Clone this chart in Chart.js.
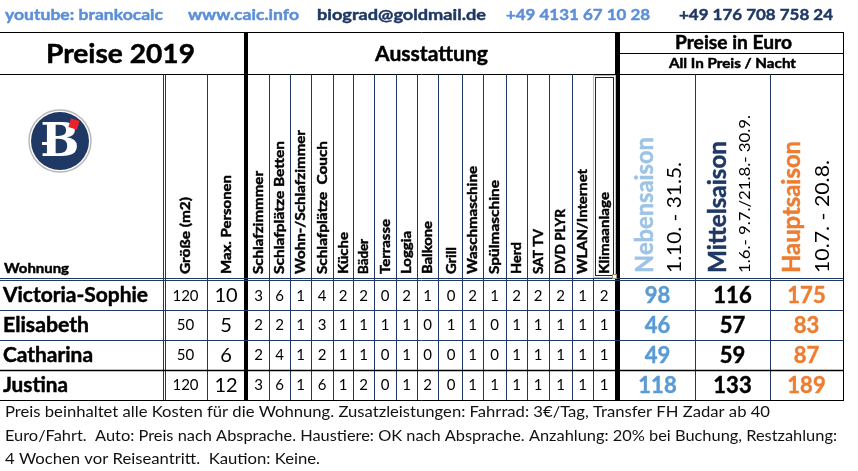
<!DOCTYPE html>
<html><head><meta charset="utf-8">
<script src="https://cdn.jsdelivr.net/npm/chart.js@4.4.1/dist/chart.umd.min.js"></script>
<style>html,body{margin:0;padding:0;background:#fff;overflow:hidden}canvas{display:block}</style>
</head><body>
<canvas id="c" width="858" height="471"></canvas>
<script>
// ---------- DATA ----------
const apartments = ["Victoria-Sophie", "Elisabeth", "Catharina", "Justina"];
const sizeM2 = [120, 50, 50, 120];
const maxPersons = [10, 5, 6, 12];
const equipmentLabels = ["Schlafzimmmer", "Schlafplätze Betten", "Wohn-/Schlafzimmer", "Schlafplätze  Couch", "Küche", "Bäder", "Terrasse", "Loggia", "Balkone",
  "Grill", "Waschmaschine", "Spülmaschine", "Herd", "SAT TV", "DVD PLYR", "WLAN/Internet", "Klimaanlage"];
const eqVictoriaSophie = [3, 6, 1, 4, 2, 2, 0, 2, 1, 0, 2, 1, 2, 2, 2, 1, 2];
const eqElisabeth      = [2, 2, 1, 3, 1, 1, 1, 1, 0, 1, 1, 0, 1, 1, 1, 1, 1];
const eqCatharina      = [2, 4, 1, 2, 1, 1, 0, 1, 0, 0, 1, 0, 1, 1, 1, 1, 1];
const eqJustina        = [3, 6, 1, 6, 1, 2, 0, 1, 2, 0, 1, 1, 1, 1, 1, 1, 1];
const priceNebensaison = [98, 46, 49, 118];
const priceMittelsaison = [116, 57, 59, 133];
const priceHauptsaison = [175, 83, 87, 189];
const seasonLabels = ["Nebensaison", "Mittelsaison", "Hauptsaison"];
const seasonDates = ["1.10. - 31.5.", "1.6.- 9.7./21.8.- 30.9.", "10.7. - 20.8."];
const contactItems = ["youtube: brankocaic", "www.caic.info", "biograd@goldmail.de", "+49 4131 67 10 28", "+49 176 708 758 24"];
const footerLines = [
  "Preis beinhaltet alle Kosten für die Wohnung. Zusatzleistungen: Fahrrad: 3€/Tag, Transfer FH Zadar ab 40",
  "Euro/Fahrt.  Auto: Preis nach Absprache. Haustiere: OK nach Absprache. Anzahlung: 20% bei Buchung, Restzahlung:",
  "4 Wochen vor Reiseantritt.  Kaution: Keine."
];

// ---------- LAYOUT (pixel units on the hidden linear scales) ----------
const F = "Lato, 'Open Sans', sans-serif";
const NAVY = "#1f3864";
const rowEdges = [281, 310, 340, 370, 400];
const rowCenters = rowEdges.slice(0, -1).map((e, i) => (e + rowEdges[i + 1]) / 2 + 0.5);
const eqEdgesL = [248, 269, 290, 311, 333, 353, 374, 396, 417, 438];
const eqEdgesR = [440, 462, 483, 506, 527, 549, 572, 593, 615];
const eqCenters = [...eqEdgesL.slice(0, -1).map((e, i) => (e + eqEdgesL[i + 1]) / 2),
                   ...eqEdgesR.slice(0, -1).map((e, i) => (e + eqEdgesR[i + 1]) / 2)];
const sizeX = 185.5, persX = 226;
const priceCenters = [657.5, 732.5, 806.5];
const eqLen = [103, 133, 144, 133, 42, 35, 55, 43, 53, 27, 108, 94, 32, 45, 65, 105, 82];
const contactX = [5, 188, 317, 506, 679];
const contactW = [158, 111, 169, 144, 154];
const contactC = ["#5b8fd8", "#5b8fd8", NAVY, "#5b8fd8", NAVY];
const footerW = [765, 832, 315];
const nameW = [145, 86, 90, 65];
const seasonColors = ["#9dc3e6", NAVY, "#ed7d31"];
const priceColors = ["#5b9bd5", "#000000", "#ed7d31"];

function txt(ctx, s, x, y, o) {
  ctx.save();
  ctx.translate(x, y);
  if (o.rot) ctx.rotate(o.rot);
  ctx.font = o.font;
  ctx.fillStyle = o.color || "#000";
  ctx.textAlign = o.align || "left";
  ctx.textBaseline = o.base || "middle";
  if (o.w) { const m = ctx.measureText(s).width; ctx.scale(o.w / m, 1); }
  ctx.fillText(s, 0, 0);
  if (o.font.indexOf("bold") === 0) {
    ctx.strokeStyle = o.color || "#000"; ctx.lineWidth = 0.45; ctx.strokeText(s, 0, 0);
  }
  ctx.restore();
}

// ---------- DATASETS ----------
const datasets = [];
const pts = (vals, xc) => vals.map((v, i) => ({ x: xc, y: rowCenters[i], v }));
datasets.push({ label: "Größe (m2)", data: pts(sizeM2, sizeX), lblFont: "15px " + F, lblColor: "#000" });
datasets.push({ label: "Max. Personen", data: pts(maxPersons, persX), lblFont: "20px " + F, lblColor: "#000" });
const eqRows = [eqVictoriaSophie, eqElisabeth, eqCatharina, eqJustina];
equipmentLabels.forEach((lab, j) => {
  datasets.push({ label: lab, data: pts(eqRows.map(r => r[j]), eqCenters[j]), lblFont: "15px " + F, lblColor: "#000" });
});
[priceNebensaison, priceMittelsaison, priceHauptsaison].forEach((vals, k) => {
  datasets.push({ label: seasonLabels[k], data: pts(vals, priceCenters[k]), lblFont: "bold 22px " + F, lblColor: priceColors[k] });
});
datasets.forEach(d => { d.pointRadius = 0; d.showLine = false; });

const tablePlugin = {
  id: "table",
  beforeDraw(chart) {
    const c = chart.ctx; c.save(); c.fillStyle = "#fff"; c.fillRect(0, 0, chart.width, chart.height); c.restore();
  },
  afterDatasetsDraw(chart) {
    const ctx = chart.ctx;
    const xs = chart.scales.x, ys = chart.scales.y;
    const X = v => xs.getPixelForValue(v), Y = v => ys.getPixelForValue(v);
    const hline = (x1, x2, y, col, w) => { ctx.beginPath(); ctx.strokeStyle = col; ctx.lineWidth = w || 1; ctx.moveTo(X(x1), Y(y)); ctx.lineTo(X(x2), Y(y)); ctx.stroke(); };
    const vline = (x, y1, y2, col, w) => { ctx.beginPath(); ctx.strokeStyle = col; ctx.lineWidth = w || 1; ctx.moveTo(X(x), Y(y1)); ctx.lineTo(X(x), Y(y2)); ctx.stroke(); };
    ctx.save();
    // contact line
    contactItems.forEach((s, i) => txt(ctx, s, X(contactX[i]), Y(15), { font: "bold 16px " + F, color: contactC[i], w: contactW[i] }));
    // grid
    hline(0, 843, 32.5, "#000");
    hline(0, 843, 74.5, "#000");
    hline(620, 843, 53.5, "#000");
    [163.5, 165.5].forEach(x => vline(x, 74.5, 400, NAVY));
    vline(207.5, 74.5, 400, NAVY);
    [...eqEdgesL.slice(1), ...eqEdgesR.slice(1, -1)].forEach(x => vline(x + 0.5, 74.5, 400, NAVY));
    vline(695.5, 74.5, 400, NAVY);
    vline(770.5, 74.5, 400, NAVY);
    vline(843.5, 32, 401, "#000");
    ctx.fillStyle = "#000";
    ctx.fillRect(X(244), Y(32), 4, Y(400) - Y(32));
    ctx.fillRect(X(615), Y(32), 5, Y(400) - Y(32));
    hline(0, 843, 278.5, NAVY);
    hline(0, 843, 280.5, NAVY);
    hline(0, 843, 310.5, NAVY);
    hline(0, 843, 340.5, NAVY);
    hline(0, 843, 370.5, "#000", 1.5);
    hline(0, 843, 400.5, "#000");
    // Klimaanlage selected-cell box
    ctx.strokeStyle = "#c9bc9f"; ctx.lineWidth = 1;
    ctx.strokeRect(X(593.5), Y(75.5), 22, 202);
    ctx.strokeStyle = "#222"; ctx.strokeRect(X(595.5), Y(77.5), 18, 198);
    ctx.fillStyle = "#fff"; ctx.fillRect(X(612), Y(274), 5, 5);
    ctx.strokeStyle = "#9c9078"; ctx.strokeRect(X(612.5), Y(274.5), 4, 4);
    // titles
    txt(ctx, "Preise 2019", X(120.5), Y(55), { font: "bold 26px " + F, align: "center", w: 149 });
    txt(ctx, "Ausstattung", X(431.5), Y(54), { font: "bold 21px " + F, align: "center", w: 113 });
    txt(ctx, "Preise in Euro", X(733.5), Y(43), { font: "bold 18px " + F, align: "center", w: 117 });
    txt(ctx, "All In Preis / Nacht", X(732.5), Y(64), { font: "bold 13px " + F, align: "center", w: 127 });
    txt(ctx, "Wohnung", X(4), Y(268), { font: "bold 14px " + F, w: 65 });
    // logo
    const lx = X(60), ly = Y(141);
    ctx.beginPath(); ctx.arc(lx, ly, 31, 0, Math.PI * 2); ctx.fillStyle = "#fff"; ctx.fill();
    ctx.strokeStyle = "#b8b8b8"; ctx.lineWidth = 1.5; ctx.stroke();
    ctx.beginPath(); ctx.arc(lx, ly, 29, 0, Math.PI * 2); ctx.fillStyle = NAVY; ctx.fill();
    ctx.save(); ctx.translate(lx, ly + 3); ctx.font = "bold 46px 'DejaVu Serif', serif"; ctx.fillStyle = "#fff";
    ctx.textAlign = "center"; ctx.textBaseline = "middle"; ctx.fillText("B", 0, 0); ctx.restore();
    ctx.fillStyle = "#fff"; ctx.fillRect(lx - 18, ly + 1, 12, 3);
    ctx.save(); ctx.translate(X(74), Y(124)); ctx.rotate(0.3); ctx.fillStyle = "#e8232a"; ctx.fillRect(-4.5, -4.5, 9, 9); ctx.restore();
    // rotated headers
    const R = -Math.PI / 2;
    txt(ctx, "Größe (m2)", X(sizeX), Y(274), { font: "bold 14px " + F, rot: R, w: 77 });
    txt(ctx, "Max. Personen", X(persX), Y(274), { font: "bold 14px " + F, rot: R, w: 99 });
    equipmentLabels.forEach((s, j) => txt(ctx, s, X(eqCenters[j]), Y(274), { font: "bold 14px " + F, rot: R, w: eqLen[j] }));
    const sLen = [136, 132, 132], dLen = [111, 158, 113], dFont = ["20px ", "16px ", "20px "];
    const sX = [645, 718, 792], dX = [675, 745, 823];
    seasonLabels.forEach((s, k) => {
      txt(ctx, s, X(sX[k]), Y(273), { font: "bold 25px " + F, rot: R, w: sLen[k], color: seasonColors[k] });
      txt(ctx, seasonDates[k], X(dX[k]), Y(273), { font: dFont[k] + F, rot: R, w: dLen[k] });
    });
    // apartment names
    apartments.forEach((s, i) => txt(ctx, s, X(3), Y(rowCenters[i]), { font: "bold 20px " + F, w: nameW[i] }));
    // data labels at the dataset points
    chart.data.datasets.forEach((ds, di) => {
      const meta = chart.getDatasetMeta(di);
      meta.data.forEach((el, k) => txt(ctx, String(ds.data[k].v), el.x, el.y, { font: ds.lblFont, color: ds.lblColor, align: "center" }));
    });
    // footer
    const fy = [412, 436, 459];
    footerLines.forEach((s, i) => txt(ctx, s, X(5), Y(fy[i]), { font: "15px " + F, color: "#111", w: footerW[i] }));
    ctx.restore();
  }
};

new Chart(document.getElementById("c"), {
  type: "scatter",
  data: { datasets },
  options: {
    responsive: false, animation: false, devicePixelRatio: 1,
    layout: { padding: 0 },
    plugins: { legend: { display: false }, tooltip: { enabled: false } },
    scales: {
      x: { type: "linear", min: 0, max: 858, display: false },
      y: { type: "linear", min: 0, max: 471, reverse: true, display: false }
    }
  },
  plugins: [tablePlugin]
});
</script>
</body></html>
